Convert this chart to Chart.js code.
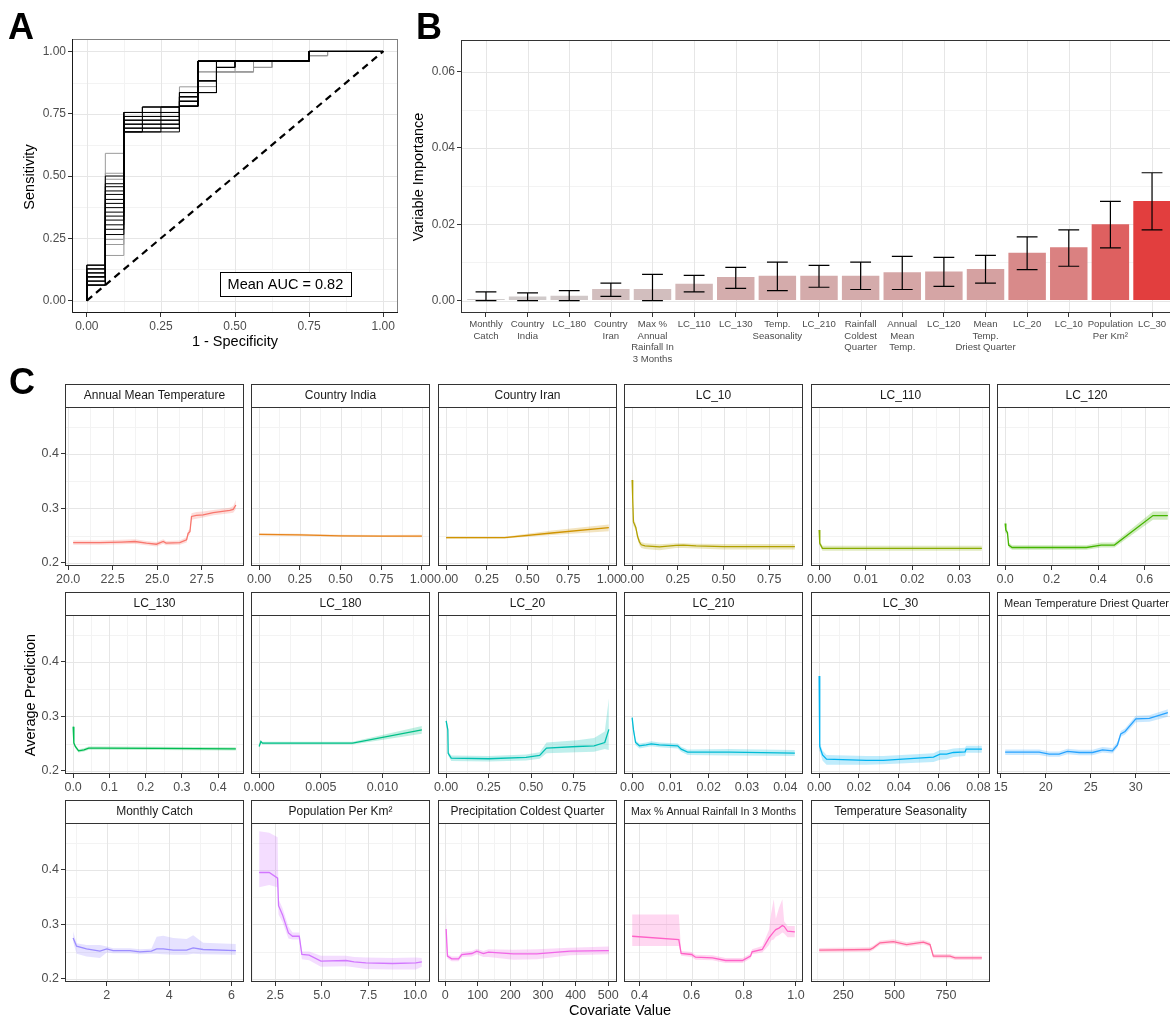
<!DOCTYPE html>
<html>
<head>
<meta charset="utf-8">
<title>Model evaluation</title>
<script src="https://cdn.jsdelivr.net/npm/chart.js@4.4.1/dist/chart.umd.min.js"></script>
<style>
  html, body { margin: 0; padding: 0; background: #fff; }
  #figure { position: relative; width: 1170px; height: 1017px; overflow: hidden;
            font-family: "Liberation Sans", Arial, sans-serif; }
  #figure canvas { position: absolute; }
  .txt { position: absolute; white-space: nowrap; color: #000; line-height: 1; }
</style>
</head>
<body>
<div id="figure"></div>
<script>
// ---------- A: cross-validated ROC curves ----------
const rocFpr = [0, 0.0625, 0.125, 0.1875, 0.25, 0.3125, 0.375, 0.4375, 0.5, 0.5625, 0.625, 0.6875, 0.75, 0.8125, 0.875, 0.9375, 1];
const rocTpr = [
  [0.142, 0.591, 0.755, 0.777, 0.777, 0.858, 0.918, 0.918, 0.918, 0.936, 0.961, 0.961, 0.983, 1, 1, 1, 1],
  [0.127, 0.511, 0.739, 0.755, 0.755, 0.835, 0.859, 0.918, 0.918, 0.936, 0.961, 0.961, 0.983, 1, 1, 1, 1],
  [0.111, 0.487, 0.724, 0.739, 0.739, 0.800, 0.918, 0.918, 0.961, 0.961, 0.961, 0.961, 0.983, 1, 1, 1, 1],
  [0.095, 0.245, 0.708, 0.724, 0.724, 0.780, 0.859, 0.918, 0.918, 0.936, 0.961, 0.961, 1, 1, 1, 1, 1],
  [0.078, 0.225, 0.692, 0.708, 0.708, 0.780, 0.835, 0.918, 0.918, 0.961, 0.961, 0.961, 1, 1, 1, 1, 1],
  [0.062, 0.181, 0.677, 0.692, 0.692, 0.780, 0.882, 0.961, 0.961, 0.961, 0.961, 0.961, 1, 1, 1, 1, 1],
  [0.142, 0.500, 0.755, 0.777, 0.777, 0.835, 0.961, 0.961, 0.961, 0.961, 0.961, 0.961, 1, 1, 1, 1, 1],
  [0.127, 0.469, 0.755, 0.755, 0.777, 0.818, 0.961, 0.961, 0.961, 0.961, 0.961, 0.961, 1, 1, 1, 1, 1],
  [0.111, 0.457, 0.739, 0.755, 0.755, 0.818, 0.882, 0.961, 0.961, 0.961, 0.961, 0.961, 1, 1, 1, 1, 1],
  [0.095, 0.440, 0.724, 0.739, 0.739, 0.800, 0.961, 0.961, 0.961, 0.961, 0.961, 0.961, 1, 1, 1, 1, 1],
  [0.078, 0.426, 0.708, 0.724, 0.724, 0.800, 0.835, 0.936, 0.961, 0.961, 0.961, 0.961, 1, 1, 1, 1, 1],
  [0.062, 0.406, 0.692, 0.708, 0.708, 0.780, 0.961, 0.961, 0.961, 0.961, 0.961, 0.961, 1, 1, 1, 1, 1],
  [0.142, 0.390, 0.677, 0.692, 0.692, 0.780, 0.882, 0.936, 0.961, 0.961, 0.961, 0.961, 1, 1, 1, 1, 1],
  [0.127, 0.373, 0.755, 0.777, 0.777, 0.835, 0.961, 0.961, 0.961, 0.961, 0.961, 0.961, 1, 1, 1, 1, 1],
  [0.111, 0.355, 0.739, 0.739, 0.755, 0.818, 0.961, 0.961, 0.961, 0.961, 0.961, 0.961, 1, 1, 1, 1, 1],
  [0.095, 0.339, 0.724, 0.724, 0.739, 0.800, 0.882, 0.961, 0.961, 0.961, 0.961, 0.961, 1, 1, 1, 1, 1],
  [0.078, 0.323, 0.708, 0.708, 0.724, 0.780, 0.835, 0.936, 0.961, 0.961, 0.961, 0.961, 1, 1, 1, 1, 1],
  [0.062, 0.304, 0.692, 0.692, 0.708, 0.780, 0.961, 0.961, 0.961, 0.961, 0.961, 0.961, 1, 1, 1, 1, 1],
  [0.095, 0.286, 0.677, 0.677, 0.692, 0.780, 0.961, 0.961, 0.961, 0.961, 0.961, 0.961, 1, 1, 1, 1, 1],
  [0.062, 0.265, 0.677, 0.677, 0.677, 0.780, 0.835, 0.961, 0.961, 0.961, 0.961, 0.961, 1, 1, 1, 1, 1]
];
const rocShade = ['grey', 'grey', 'grey', 'grey', 'grey', 'grey',
  'black', 'black', 'black', 'black', 'black', 'black', 'black',
  'black', 'black', 'black', 'black', 'black', 'black', 'black'];
const rocTicks = [0, 0.25, 0.5, 0.75, 1];
const meanAuc = 0.82;
const aucLabelAt = [0.67, 0.068];

// ---------- B: permutation variable importance ----------
const impLabels = [
  ['Monthly', 'Catch'], ['Country', 'India'], ['LC_180'], ['Country', 'Iran'],
  ['Max %', 'Annual', 'Rainfall In', '3 Months'], ['LC_110'], ['LC_130'], ['Temp.', 'Seasonality'],
  ['LC_210'], ['Rainfall', 'Coldest', 'Quarter'], ['Annual', 'Mean', 'Temp.'], ['LC_120'],
  ['Mean', 'Temp.', 'Driest Quarter'], ['LC_20'], ['LC_10'], ['Population', 'Per Km²'], ['LC_30']
];
const impMean = [0.00043, 0.00104, 0.0013, 0.00304, 0.00304, 0.00443, 0.00617, 0.00652, 0.00652,
  0.00652, 0.0074, 0.00765, 0.00826, 0.01252, 0.014, 0.0200, 0.0261];
const impLow = [0, 0, 0, 0.00113, 0, 0.00226, 0.0032, 0.0026, 0.0035, 0.0029, 0.0029, 0.0037,
  0.0046, 0.0081, 0.009, 0.01383, 0.01852];
const impHigh = [0.00226, 0.002, 0.0026, 0.0046, 0.00687, 0.0066, 0.0087, 0.0101, 0.0092, 0.0101,
  0.01157, 0.0113, 0.01183, 0.0167, 0.01852, 0.026, 0.03348];
const impTicks = [0, 0.02, 0.04, 0.06];

// ---------- C: partial dependence per covariate ----------
const facetTitles = ['Annual Mean Temperature', 'Country India', 'Country Iran', 'LC_10', 'LC_110', 'LC_120',
  'LC_130', 'LC_180', 'LC_20', 'LC_210', 'LC_30', 'Mean Temperature Driest Quarter',
  'Monthly Catch', 'Population Per Km²', 'Precipitation Coldest Quarter',
  'Max % Annual Rainfall In 3 Months', 'Temperature Seasonality'];
const predTicks = [0.2, 0.3, 0.4];

const amtX = [20.28, 21.78, 23.0, 23.75, 24.4, 24.96, 25.34, 25.5, 26.27, 26.65, 26.74, 26.84, 26.93, 27.2, 27.58, 28.15, 29.08, 29.27, 29.42];
const amtY = [0.237, 0.237, 0.238, 0.239, 0.236, 0.234, 0.239, 0.236, 0.237, 0.242, 0.254, 0.257, 0.285, 0.287, 0.288, 0.292, 0.296, 0.298, 0.306];
const amtLo = [0.233, 0.233, 0.234, 0.235, 0.232, 0.230, 0.235, 0.232, 0.233, 0.237, 0.249, 0.252, 0.279, 0.281, 0.283, 0.287, 0.291, 0.292, 0.298];
const amtHi = [0.241, 0.241, 0.242, 0.243, 0.240, 0.238, 0.243, 0.240, 0.241, 0.247, 0.259, 0.262, 0.291, 0.293, 0.294, 0.297, 0.301, 0.304, 0.315];
const amtTicks = [20, 22.5, 25, 27.5];

const indX = [0, 0.25, 0.5, 0.75, 1];
const indY = [0.252, 0.251, 0.2495, 0.249, 0.249];
const indLo = [0.250, 0.249, 0.2478, 0.2472, 0.2468];
const indHi = [0.254, 0.253, 0.2512, 0.2508, 0.2512];
const indTicks = [0, 0.25, 0.5, 0.75, 1];

const iranX = [0, 0.36, 0.65, 1];
const iranY = [0.246, 0.246, 0.2546, 0.2645];
const iranLo = [0.244, 0.2443, 0.251, 0.258];
const iranHi = [0.248, 0.2478, 0.259, 0.270];
const iranTicks = [0, 0.25, 0.5, 0.75, 1];

const lc10X = [0, 0.003, 0.007, 0.02, 0.03, 0.04, 0.05, 0.07, 0.15, 0.24, 0.28, 0.35, 0.5, 0.89];
const lc10Y = [0.352, 0.32, 0.275, 0.265, 0.248, 0.238, 0.233, 0.231, 0.229, 0.232, 0.2325, 0.231, 0.2295, 0.2295];
const lc10Lo = [0.335, 0.31, 0.268, 0.259, 0.243, 0.232, 0.227, 0.225, 0.223, 0.227, 0.227, 0.226, 0.2245, 0.2245];
const lc10Hi = [0.378, 0.33, 0.282, 0.271, 0.253, 0.244, 0.238, 0.236, 0.234, 0.236, 0.236, 0.235, 0.2345, 0.2345];
const lc10Ticks = [0, 0.25, 0.5, 0.75];

const lc110X = [0, 0.00014, 0.0007, 0.0349];
const lc110Y = [0.260, 0.2356, 0.2264, 0.2264];
const lc110Lo = [0.256, 0.232, 0.222, 0.222];
const lc110Hi = [0.264, 0.239, 0.231, 0.231];
const lc110Ticks = [0, 0.01, 0.02, 0.03];

const lc120X = [0, 0.003, 0.01, 0.015, 0.03, 0.35, 0.413, 0.47, 0.636, 0.70];
const lc120Y = [0.272, 0.26, 0.255, 0.2325, 0.228, 0.228, 0.2325, 0.2325, 0.2866, 0.2866];
const lc120Lo = [0.266, 0.255, 0.25, 0.228, 0.224, 0.224, 0.228, 0.228, 0.279, 0.279];
const lc120Hi = [0.278, 0.265, 0.26, 0.237, 0.232, 0.232, 0.237, 0.237, 0.294, 0.294];
const lc120Ticks = [0, 0.2, 0.4, 0.6];

const lc130X = [0, 0.002, 0.006, 0.015, 0.03, 0.043, 0.075, 0.23, 0.449];
const lc130Y = [0.281, 0.251, 0.2445, 0.2366, 0.2384, 0.2415, 0.2415, 0.241, 0.2402];
const lc130Lo = [0.277, 0.248, 0.2415, 0.2336, 0.2354, 0.2385, 0.2385, 0.238, 0.2372];
const lc130Hi = [0.285, 0.254, 0.2475, 0.2396, 0.2414, 0.2445, 0.2445, 0.244, 0.2432];
const lc130Ticks = [0, 0.1, 0.2, 0.3, 0.4];

const lc180X = [0, 0.00014, 0.00027, 0.0005, 0.00757, 0.01319];
const lc180Y = [0.2445, 0.2537, 0.2506, 0.2506, 0.2506, 0.275];
const lc180Lo = [0.242, 0.251, 0.248, 0.248, 0.248, 0.268];
const lc180Hi = [0.247, 0.256, 0.253, 0.253, 0.253, 0.282];
const lc180Ticks = [0, 0.005, 0.01];

const lc20X = [0, 0.01, 0.012, 0.03, 0.25, 0.47, 0.55, 0.59, 0.77, 0.87, 0.933, 0.957];
const lc20Y = [0.2915, 0.275, 0.232, 0.223, 0.222, 0.2244, 0.228, 0.2415, 0.2445, 0.2457, 0.2518, 0.276];
const lc20Lo = [0.286, 0.27, 0.228, 0.218, 0.217, 0.219, 0.222, 0.232, 0.234, 0.235, 0.240, 0.238];
const lc20Hi = [0.297, 0.28, 0.236, 0.228, 0.227, 0.23, 0.234, 0.252, 0.256, 0.26, 0.272, 0.333];
const lc20Ticks = [0, 0.25, 0.5, 0.75];

const lc210X = [0, 0.00035, 0.0009, 0.0019, 0.00365, 0.005, 0.0071, 0.0119, 0.0128, 0.0145, 0.0254, 0.0425];
const lc210Y = [0.2976, 0.275, 0.2518, 0.2457, 0.2476, 0.2494, 0.2476, 0.2457, 0.2396, 0.2341, 0.2341, 0.2323];
const lc210Lo = [0.293, 0.270, 0.247, 0.241, 0.243, 0.245, 0.243, 0.241, 0.235, 0.229, 0.228, 0.227];
const lc210Hi = [0.302, 0.280, 0.256, 0.250, 0.252, 0.254, 0.252, 0.250, 0.244, 0.239, 0.240, 0.238];
const lc210Ticks = [0, 0.01, 0.02, 0.03, 0.04];

const lc30X = [0, 0.0003, 0.0017, 0.0037, 0.0238, 0.0322, 0.0574, 0.0607, 0.064, 0.0674, 0.0733, 0.0738, 0.0817];
const lc30Y = [0.3738, 0.2445, 0.229, 0.2213, 0.2189, 0.2189, 0.225, 0.2305, 0.2305, 0.2335, 0.2348, 0.2396, 0.2396];
const lc30Lo = [0.37, 0.236, 0.219, 0.211, 0.211, 0.212, 0.216, 0.22, 0.221, 0.225, 0.227, 0.233, 0.233];
const lc30Hi = [0.377, 0.252, 0.237, 0.229, 0.227, 0.227, 0.232, 0.238, 0.238, 0.241, 0.242, 0.246, 0.246];
const lc30Ticks = [0, 0.02, 0.04, 0.06, 0.08];

const mtdqX = [15.48, 19.26, 20.37, 21.48, 22.4, 23.7, 25.19, 26.3, 27.4, 27.96, 28.33, 28.8, 30.0, 31.5, 33.56];
const mtdqY = [0.2341, 0.2341, 0.2305, 0.2305, 0.2354, 0.2335, 0.2335, 0.2384, 0.2366, 0.2476, 0.2677, 0.272, 0.2951, 0.2963, 0.3065];
const mtdqLo = [0.229, 0.229, 0.2255, 0.2255, 0.2305, 0.2285, 0.2285, 0.2335, 0.2316, 0.2426, 0.2625, 0.2665, 0.289, 0.290, 0.299];
const mtdqHi = [0.239, 0.239, 0.2355, 0.2355, 0.2405, 0.2385, 0.2385, 0.2435, 0.2416, 0.2526, 0.2729, 0.2775, 0.301, 0.302, 0.313];
const mtdqTicks = [15, 20, 25, 30];

const catchX = [0.92, 1.03, 1.35, 1.78, 2.0, 2.2, 2.74, 3.06, 3.43, 3.6, 3.81, 4.13, 4.56, 4.77, 5.09, 6.14];
const catchY = [0.275, 0.2598, 0.2549, 0.2506, 0.2549, 0.2518, 0.2518, 0.2494, 0.2506, 0.2549, 0.2549, 0.2524, 0.2524, 0.2567, 0.2537, 0.2518];
const catchLo = [0.268, 0.246, 0.241, 0.238, 0.248, 0.247, 0.247, 0.245, 0.246, 0.246, 0.245, 0.244, 0.244, 0.246, 0.245, 0.244];
const catchHi = [0.287, 0.265, 0.262, 0.262, 0.259, 0.256, 0.256, 0.254, 0.255, 0.277, 0.279, 0.275, 0.273, 0.280, 0.266, 0.264];
const catchTicks = [2, 4, 6];

const popX = [1.64, 2.18, 2.63, 2.68, 2.89, 3.21, 3.43, 3.79, 3.93, 4.32, 4.95, 6.29, 6.73, 7.36, 8.79, 10.04, 10.36];
const popY = [0.3951, 0.3951, 0.3848, 0.3341, 0.3177, 0.2841, 0.278, 0.278, 0.2445, 0.2433, 0.2323, 0.2335, 0.2311, 0.2293, 0.228, 0.2293, 0.2311];
const popLo = [0.368, 0.372, 0.368, 0.318, 0.304, 0.274, 0.272, 0.272, 0.236, 0.234, 0.222, 0.223, 0.221, 0.218, 0.217, 0.217, 0.222];
const popHi = [0.471, 0.468, 0.46, 0.346, 0.33, 0.296, 0.285, 0.285, 0.25, 0.25, 0.242, 0.242, 0.24, 0.239, 0.238, 0.239, 0.238];
const popTicks = [2.5, 5, 7.5, 10];

const precX = [3, 7, 20, 41, 51, 82, 97, 117, 133, 209, 281, 383, 502];
const precY = [0.2915, 0.2415, 0.2366, 0.2366, 0.2445, 0.2463, 0.2506, 0.2463, 0.2488, 0.2457, 0.2457, 0.2506, 0.2518];
const precLo = [0.26, 0.237, 0.232, 0.232, 0.240, 0.241, 0.245, 0.240, 0.24, 0.235, 0.236, 0.243, 0.245];
const precHi = [0.324, 0.246, 0.241, 0.241, 0.249, 0.251, 0.255, 0.251, 0.254, 0.253, 0.254, 0.257, 0.259];
const precTicks = [0, 100, 200, 300, 400, 500];

const rainX = [0.372, 0.551, 0.56, 0.6, 0.615, 0.68, 0.73, 0.795, 0.826, 0.832, 0.871, 0.897, 0.905, 0.915, 0.923, 0.935, 0.948, 0.955, 0.968, 0.996];
const rainY = [0.278, 0.272, 0.2463, 0.2445, 0.2396, 0.2384, 0.2335, 0.2335, 0.2415, 0.2494, 0.2537, 0.275, 0.28, 0.286, 0.2902, 0.293, 0.2976, 0.296, 0.2872, 0.286];
const rainLo = [0.26, 0.26, 0.242, 0.24, 0.235, 0.234, 0.229, 0.229, 0.237, 0.245, 0.248, 0.262, 0.27, 0.272, 0.277, 0.28, 0.285, 0.283, 0.276, 0.276];
const rainHi = [0.318, 0.318, 0.251, 0.249, 0.244, 0.243, 0.238, 0.238, 0.246, 0.254, 0.26, 0.29, 0.32, 0.346, 0.31, 0.33, 0.346, 0.305, 0.297, 0.297];
const rainTicks = [0.4, 0.6, 0.8, 1.0];

const tsX = [133, 380, 396, 429, 494, 558, 640, 672, 688, 769, 794, 924];
const tsY = [0.2524, 0.2537, 0.2567, 0.2659, 0.2683, 0.2628, 0.2671, 0.2628, 0.2415, 0.2415, 0.2384, 0.2384];
const tsLo = [0.2484, 0.2497, 0.2527, 0.2619, 0.2643, 0.2588, 0.2631, 0.2588, 0.2375, 0.2375, 0.2344, 0.2344];
const tsHi = [0.2564, 0.2577, 0.2607, 0.2699, 0.2723, 0.2668, 0.2711, 0.2668, 0.2455, 0.2455, 0.2424, 0.2424];
const tsTicks = [250, 500, 750];

// x, y, lower, upper, breaks, label decimals -- in facet order
const facetSeries = [
  [amtX, amtY, amtLo, amtHi, amtTicks, 1],
  [indX, indY, indLo, indHi, indTicks, 2],
  [iranX, iranY, iranLo, iranHi, iranTicks, 2],
  [lc10X, lc10Y, lc10Lo, lc10Hi, lc10Ticks, 2],
  [lc110X, lc110Y, lc110Lo, lc110Hi, lc110Ticks, 2],
  [lc120X, lc120Y, lc120Lo, lc120Hi, lc120Ticks, 1],
  [lc130X, lc130Y, lc130Lo, lc130Hi, lc130Ticks, 1],
  [lc180X, lc180Y, lc180Lo, lc180Hi, lc180Ticks, 3],
  [lc20X, lc20Y, lc20Lo, lc20Hi, lc20Ticks, 2],
  [lc210X, lc210Y, lc210Lo, lc210Hi, lc210Ticks, 2],
  [lc30X, lc30Y, lc30Lo, lc30Hi, lc30Ticks, 2],
  [mtdqX, mtdqY, mtdqLo, mtdqHi, mtdqTicks, 0],
  [catchX, catchY, catchLo, catchHi, catchTicks, 0],
  [popX, popY, popLo, popHi, popTicks, 1],
  [precX, precY, precLo, precHi, precTicks, 0],
  [rainX, rainY, rainLo, rainHi, rainTicks, 1],
  [tsX, tsY, tsLo, tsHi, tsTicks, 0]
];

// ---------- shared setup ----------
const FONT = '"Liberation Sans", Arial, sans-serif';
Chart.defaults.font.family = FONT;
Chart.defaults.color = '#4D4D4D';
Chart.defaults.animation = false;
Chart.defaults.plugins.legend.display = false;
Chart.defaults.plugins.tooltip.enabled = false;

const fig = document.getElementById('figure');

function addCanvas(left, top, width, height) {
  const c = document.createElement('canvas');
  c.width = width;
  c.height = height;
  c.style.left = left + 'px';
  c.style.top = top + 'px';
  c.style.width = width + 'px';
  c.style.height = height + 'px';
  fig.appendChild(c);
  return c.getContext('2d');
}

function addText(text, x, y, size, opts = {}) {
  const d = document.createElement('div');
  d.className = 'txt';
  d.textContent = text;
  d.style.fontSize = size + 'px';
  d.style.left = x + 'px';
  d.style.top = y + 'px';
  if (opts.bold) d.style.fontWeight = 'bold';
  if (opts.centered) d.style.transform = 'translate(-50%, -50%)' + (opts.rotate ? ' rotate(-90deg)' : '');
  fig.appendChild(d);
}

function minorBreaks(major, min, max) {
  const step = major[1] - major[0];
  const out = [];
  for (let v = major[0] - step / 2; v <= max + 1e-12; v += step) {
    if (v >= min) out.push(v);
  }
  return out;
}

function hcl(h, c, l) {
  const hr = h * Math.PI / 180;
  const u = c * Math.cos(hr), v = c * Math.sin(hr);
  const Xn = 95.047, Yn = 100, Zn = 108.883;
  const den = Xn + 15 * Yn + 3 * Zn;
  const un = 4 * Xn / den, vn = 9 * Yn / den;
  const Y = Yn * Math.pow((l + 16) / 116, 3);
  const up = u / (13 * l) + un, vp = v / (13 * l) + vn;
  const X = Y * 9 * up / (4 * vp);
  const Z = Y * (12 - 3 * up - 20 * vp) / (4 * vp);
  const lin = [
    3.240479 * X - 1.537150 * Y - 0.498535 * Z,
    -0.969256 * X + 1.875992 * Y + 0.041556 * Z,
    0.055648 * X - 0.204043 * Y + 1.057311 * Z
  ];
  return lin.map(t => {
    t = Math.max(0, Math.min(1, t / 100));
    return Math.round(255 * (t <= 0.0031308 ? 12.92 * t : 1.055 * Math.pow(t, 1 / 2.4) - 0.055));
  });
}

// ticks placed exactly on the given breaks, with short tick marks outside the panel
function axis(min, max, breaks, fmt, size, extra = {}) {
  return Object.assign({
    type: 'linear', min, max, bounds: 'data', offset: false,
    afterBuildTicks: s => { s.ticks = breaks.map(v => ({ value: v })); },
    ticks: { autoSkip: false, maxRotation: 0, minRotation: 0, padding: 2,
             color: '#4D4D4D', font: { size }, callback: fmt },
    grid: { drawOnChartArea: false, drawTicks: true, tickLength: 4, tickColor: '#333333', tickWidth: 1, offset: false },
    border: { display: false }
  }, extra);
}

// background grid (major + minor) and panel border
function panelGrid(g) {
  return {
    id: 'panelGrid',
    beforeDatasetsDraw(chart) {
      const { ctx, chartArea: a, scales } = chart;
      ctx.save();
      ctx.lineWidth = 1;
      const draw = (vals, dir, color) => {
        ctx.strokeStyle = color;
        vals.forEach(v => {
          ctx.beginPath();
          if (dir === 'x') {
            const p = Math.round(scales.x.getPixelForValue(v)) + 0.5;
            ctx.moveTo(p, a.top); ctx.lineTo(p, a.bottom);
          } else {
            const p = Math.round(scales.y.getPixelForValue(v)) + 0.5;
            ctx.moveTo(a.left, p); ctx.lineTo(a.right, p);
          }
          ctx.stroke();
        });
      };
      draw(g.xMinor || [], 'x', '#F3F3F3');
      draw(g.yMinor || [], 'y', '#F3F3F3');
      draw(g.xMajor || [], 'x', '#E6E6E6');
      draw(g.yMajor || [], 'y', '#E6E6E6');
      ctx.restore();
    },
    afterDatasetsDraw(chart) {
      const { ctx, chartArea: a } = chart;
      ctx.save();
      ctx.lineWidth = 1;
      ctx.strokeStyle = g.border || '#333333';
      ctx.strokeRect(Math.round(a.left) + 0.5, Math.round(a.top) + 0.5, Math.round(a.width) - 1, Math.round(a.height) - 1);
      if (g.axisLines) {
        ctx.strokeStyle = '#1A1A1A';
        ctx.beginPath();
        ctx.moveTo(Math.round(a.left) + 0.5, a.top);
        ctx.lineTo(Math.round(a.left) + 0.5, Math.round(a.bottom) - 0.5);
        ctx.lineTo(a.right, Math.round(a.bottom) - 0.5);
        ctx.stroke();
      }
      ctx.restore();
    }
  };
}

// ---------- A ----------
(function drawRoc() {
  const plot = { left: 72, top: 39, right: 398, bottom: 313 };
  const W = 410, H = 350;
  const ctx = addCanvas(0, 0, W, H);
  const curves = rocTpr.map((row, k) => ({
    data: [{ x: 0, y: 0 }].concat(rocFpr.map((f, j) => ({ x: f, y: row[j] }))),
    borderColor: rocShade[k] === 'grey' ? '#9A9A9A' : '#000000',
    borderWidth: 1, pointRadius: 0, stepped: 'before', fill: false,
    order: rocShade[k] === 'grey' ? 2 : 1
  }));
  curves.push({
    data: [{ x: 0, y: 0 }, { x: 1, y: 1 }],
    borderColor: '#000000', borderWidth: 2.2, borderDash: [7, 5], pointRadius: 0, fill: false, order: 0
  });
  const aucBox = {
    id: 'aucBox',
    afterDraw(chart) {
      const { ctx: c, scales: { x, y } } = chart;
      const cx = x.getPixelForValue(aucLabelAt[0]), cy = y.getPixelForValue(aucLabelAt[1]);
      const text = 'Mean AUC = ' + meanAuc.toFixed(2);
      c.save();
      c.font = '14.5px ' + FONT;
      const w = Math.round(c.measureText(text).width + 15), h = 24;
      const bx = Math.round(cx - w / 2) + 0.5, by = Math.round(cy - h / 2) + 0.5;
      c.fillStyle = '#FFFFFF';
      c.fillRect(bx, by, w, h);
      c.strokeStyle = '#000000';
      c.lineWidth = 1;
      c.strokeRect(bx, by, w, h);
      c.fillStyle = '#000000';
      c.textAlign = 'center';
      c.textBaseline = 'middle';
      c.fillText(text, cx, cy + 1);
      c.restore();
    }
  };
  new Chart(ctx, {
    type: 'line',
    data: { datasets: curves },
    options: {
      responsive: false, devicePixelRatio: 1,
      layout: { autoPadding: false, padding: { left: 0, top: plot.top, right: W - plot.right, bottom: 0 } },
      scales: {
        x: axis(-0.05, 1.05, rocTicks, v => v.toFixed(2), 12, { afterFit: s => { s.height = H - plot.bottom; } }),
        y: axis(-0.05, 1.05, rocTicks, v => v.toFixed(2), 12, { afterFit: s => { s.width = plot.left; } })
      }
    },
    plugins: [panelGrid({
      xMajor: rocTicks, yMajor: rocTicks,
      xMinor: minorBreaks(rocTicks, -0.05, 1.05), yMinor: minorBreaks(rocTicks, -0.05, 1.05),
      border: '#808080', axisLines: true
    }), aucBox]
  });
  addText('Sensitivity', 29, 177, 14.5, { centered: true, rotate: true });
  addText('1 - Specificity', 235, 341, 14.5, { centered: true });
})();

// ---------- B ----------
(function drawImportance() {
  const left = 400, W = 780, H = 370;
  const plot = { left: 461, top: 40, right: 1177, bottom: 313 };
  const ctx = addCanvas(left, 0, W, H);
  const lo = Math.min(...impMean), hi = Math.max(...impMean);
  const c0 = [208, 205, 205], c1 = [226, 62, 62];
  const fills = impMean.map(v => {
    const t = (v - lo) / (hi - lo);
    const c = c0.map((a, k) => Math.round(a + (c1[k] - a) * t));
    return 'rgb(' + c.join(',') + ')';
  });
  const cats = impLabels.map((_, i) => i);
  const errorBars = {
    id: 'errorBars',
    afterDatasetsDraw(chart) {
      const { ctx: c, scales: { x, y } } = chart;
      c.save();
      c.strokeStyle = '#000000';
      c.lineWidth = 1.2;
      impLow.forEach((l, i) => {
        const px = x.getPixelForValue(i);
        const half = x.getPixelForValue(i + 0.25) - px;
        const yl = y.getPixelForValue(l), yh = y.getPixelForValue(impHigh[i]);
        c.beginPath();
        c.moveTo(px, yl); c.lineTo(px, yh);
        c.moveTo(px - half, yl); c.lineTo(px + half, yl);
        c.moveTo(px - half, yh); c.lineTo(px + half, yh);
        c.stroke();
      });
      c.restore();
    }
  };
  new Chart(ctx, {
    type: 'bar',
    data: {
      datasets: [{
        data: impMean.map((v, i) => ({ x: i, y: v })),
        backgroundColor: fills, borderWidth: 0,
        barPercentage: 0.9, categoryPercentage: 1.0
      }]
    },
    options: {
      responsive: false, devicePixelRatio: 1,
      layout: { autoPadding: false, padding: { left: 0, top: plot.top, right: W - (plot.right - left), bottom: 0 } },
      scales: {
        x: axis(-0.6, 16.6, cats, (v, i) => impLabels[i], 9.6, {
          afterFit: s => { s.height = H - plot.bottom; }
        }),
        y: axis(-0.00325, 0.06825, impTicks, v => v.toFixed(2), 12, {
          afterFit: s => { s.width = plot.left - left; }
        })
      }
    },
    plugins: [panelGrid({
      xMajor: cats, yMajor: impTicks, yMinor: minorBreaks(impTicks, -0.00325, 0.06825)
    }), errorBars]
  });
  addText('Variable Importance', 418, 177, 14.5, { centered: true, rotate: true });
})();

// ---------- C ----------
(function drawFacets() {
  const lefts = [65, 251, 438, 624, 811, 997];
  const stripTops = [384, 592, 800];
  const panelW = 179, stripH = 23, plotH = 159, yW = 66, rightPad = 16, xH = 32;
  const yMin = 0.194, yMax = 0.486;

  facetSeries.forEach((f, i) => {
    const [fx, fy, flo, fhi, fticks, digits] = f;
    const col = i % 6, row = Math.floor(i / 6);
    const W = yW + panelW + rightPad, H = stripH + plotH + xH;
    const ctx = addCanvas(lefts[col] - yW, stripTops[row], W, H);
    const span = Math.max(...fx) - Math.min(...fx);
    const xMin = Math.min(...fx) - 0.05 * span, xMax = Math.max(...fx) + 0.05 * span;
    const rgb = hcl(15 + i * 360 / 17, 100, 65);
    const solid = 'rgb(' + rgb.join(',') + ')';
    const soft = 'rgba(' + rgb.join(',') + ',0.25)';
    const pts = arr => fx.map((v, k) => ({ x: v, y: arr[k] }));
    const title = facetTitles[i];

    const strip = {
      id: 'strip',
      afterDraw(chart) {
        const { ctx: c, chartArea: a } = chart;
        c.save();
        const x0 = Math.round(a.left) + 0.5, y0 = Math.round(a.top) - stripH + 0.5;
        c.fillStyle = '#FFFFFF';
        c.fillRect(x0, y0, Math.round(a.width) - 1, stripH);
        c.strokeStyle = '#333333';
        c.lineWidth = 1;
        c.strokeRect(x0, y0, Math.round(a.width) - 1, stripH);
        let size = 12;
        c.font = size + 'px ' + FONT;
        const w = c.measureText(title).width;
        if (w > a.width - 14) {
          size = size * (a.width - 14) / w;
          c.font = size.toFixed(2) + 'px ' + FONT;
        }
        c.fillStyle = '#1A1A1A';
        c.textAlign = 'center';
        c.textBaseline = 'middle';
        c.fillText(title, (a.left + a.right) / 2, a.top - stripH / 2 + 0.5);
        c.restore();
      }
    };

    new Chart(ctx, {
      type: 'line',
      data: {
        datasets: [
          { data: pts(flo), borderWidth: 0, pointRadius: 0, fill: false, order: 2 },
          { data: pts(fhi), borderWidth: 0, pointRadius: 0, fill: '-1', backgroundColor: soft, order: 1 },
          { data: pts(fy), borderColor: solid, borderWidth: 1.3, pointRadius: 0, fill: false, order: 0 }
        ]
      },
      options: {
        responsive: false, devicePixelRatio: 1,
        layout: { autoPadding: false, padding: { left: col === 0 ? 0 : yW, top: stripH, right: rightPad, bottom: 0 } },
        scales: {
          x: axis(xMin, xMax, fticks, v => v.toFixed(digits), 12.5, { afterFit: s => { s.height = xH; } }),
          y: axis(yMin, yMax, predTicks, v => v.toFixed(1), 12.5, {
            display: col === 0,
            afterFit: s => { s.width = col === 0 ? yW : 0; }
          })
        }
      },
      plugins: [panelGrid({
        xMajor: fticks, xMinor: minorBreaks(fticks, xMin, xMax),
        yMajor: predTicks, yMinor: minorBreaks(predTicks, yMin, yMax)
      }), strip]
    });
  });

  addText('Average Prediction', 30, 695, 14.5, { centered: true, rotate: true });
  addText('Covariate Value', 620, 1010, 14.5, { centered: true });
})();

// panel letters
addText('A', 8, 9, 36, { bold: true });
addText('B', 416, 9, 36, { bold: true });
addText('C', 9, 364, 36, { bold: true });
</script>
</body>
</html>
